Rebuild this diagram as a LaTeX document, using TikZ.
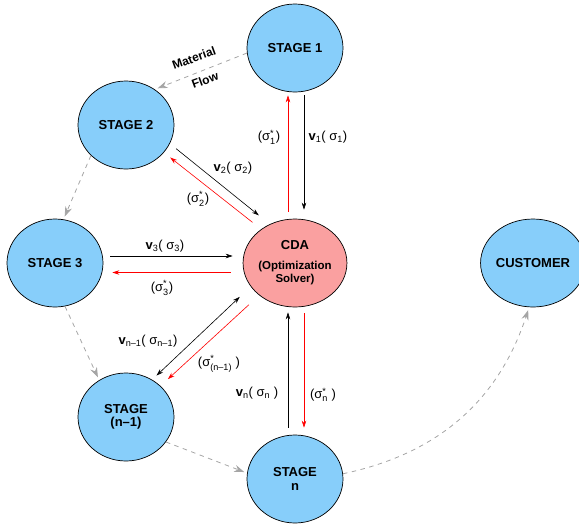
\documentclass[tikz,border=0pt]{standalone}
\usepackage{amsmath}
\usepackage{fontspec}
\setmainfont{Liberation Sans}
\usetikzlibrary{positioning,arrows.meta,shapes.geometric}
\definecolor{stageblue}{RGB}{135,206,250}
\definecolor{cdapink}{RGB}{250,160,160}
\definecolor{flowgray}{RGB}{165,165,165}

\begin{document}
\begin{tikzpicture}[x=1pt,y=-1pt,on grid,node distance=216pt and 240pt,
		>={Stealth[length=7pt,width=4.5pt]},
		main node/.style={ellipse,draw,line width=0.7pt,fill=stageblue,minimum width=96pt,
			minimum height=88pt,inner sep=0pt,align=center,font=\bfseries\fontsize{13}{13.5}\selectfont},
		cda node/.style={main node,fill=cdapink,font=\bfseries\fontsize{11.5}{13.5}\selectfont},
		sig/.style={->,line width=0.6pt},
		flow/.style={-{Stealth[length=10pt,width=7pt]},flowgray,line width=0.8pt,dash pattern=on 4.5pt off 4.5pt,shorten >=3pt},
		lab/.style={inner sep=0pt,font=\fontsize{13}{14}\selectfont},
		flow text/.style={inner sep=0pt,rotate=20,font=\bfseries\fontsize{12}{13}\selectfont}]

		\useasboundingbox (0,0) rectangle (579,523);

		\node[cda node] (cda) at (295,263) {{\fontsize{13}{13}\selectfont CDA}\\[6pt](Optimization\\Solver)};
		\node[main node] (s1) [above=215pt of cda] {STAGE 1};
		\node[main node] (s2) [above left=138pt and 169pt of cda] {STAGE 2};
		\node[main node] (s3) [left=of cda] {STAGE 3};
		\node[main node] (sn1) [below left=154pt and 169pt of cda] {STAGE\\(n--1)};
		\node[main node] (sn) [below=of cda] {STAGE\\n};
		\node[main node] (cust) [right=238pt of cda] {CUSTOMER};

		% material flow
		\path[flow]
		(s1.186) edge (s2.51)
		(s2.221) edge (s3.79)
		(s3.-77) edge (sn1.126)
		(sn1.-32) edge (sn.173)
		(sn) edge [bend right=30] (cust.265);

		\node[flow text] (mat) at (194,58) {Material};
		\node[flow text] (flw) at (205,80) {Flow};

		% bids to the CDA
		\path[sig]
		([xshift=9pt]s1.south) edge [shorten <=3pt,shorten >=9pt] ([xshift=9pt]cda.north)
		(s2.-23) edge [shorten <=8pt,shorten >=14pt] (cda.123)
		([yshift=7pt]s3.east) edge [shorten <=7pt,shorten >=10pt] ([yshift=7pt]cda.west)
		(cda.208) edge [<->,shorten <=15pt,shorten >=6pt] (sn1.55)
		([xshift=-7pt]sn.north) edge [shorten <=7pt,shorten >=5pt] ([xshift=-7pt]cda.south);

		% optimal values back to the stages
		\path[sig,red]
		([xshift=-7pt]cda.north) edge [shorten <=7pt,shorten >=3pt] ([xshift=-7pt]s1.south)
		(cda.135) edge [shorten <=11pt,shorten >=8pt] (s2.-36)
		([yshift=-9.5pt]cda.west) edge [shorten <=12pt,shorten >=9pt] ([yshift=-9.5pt]s3.east)
		(cda.222) edge [shorten <=14pt,shorten >=10pt] (sn1.42)
		([xshift=9pt]cda.south) edge [shorten <=6pt,shorten >=7pt] ([xshift=9pt]sn.north);

		\node[lab] (lv1) at (328,137) {{\bfseries v}$_{\text{1}}$( σ$_{\text{1}}$)};
		\node[lab] (ls1) at (269,137) {(σ$^{\text{*}}_{\text{1}}$)};
		\node[lab] (lv2) at (233,168) {{\bfseries v}$_{\text{2}}$( σ$_{\text{2}}$)};
		\node[lab] (ls2) at (198,199) {(σ$^{\text{*}}_{\text{2}}$)};
		\node[lab] (lv3) at (165,246) {{\bfseries v}$_{\text{3}}$( σ$_{\text{3}}$)};
		\node[lab] (ls3) at (162,288) {(σ$^{\text{*}}_{\text{3}}$)};
		\node[lab] (lvn1) at (148,341) {{\bfseries v}$_{\text{n--1}}$( σ$_{\text{n--1}}$)};
		\node[lab] (lsn1) at (219,364) {(σ$^{\text{*}}_{\text{(n--1)}}$ )};
		\node[lab] (lvn) at (257,393) {{\bfseries v}$_{\text{n}}$( σ$_{\text{n}}$ )};
		\node[lab] (lsn) at (323,395) {(σ$^{\text{*}}_{\text{n}}$ )};
	\end{tikzpicture}
\end{document}
